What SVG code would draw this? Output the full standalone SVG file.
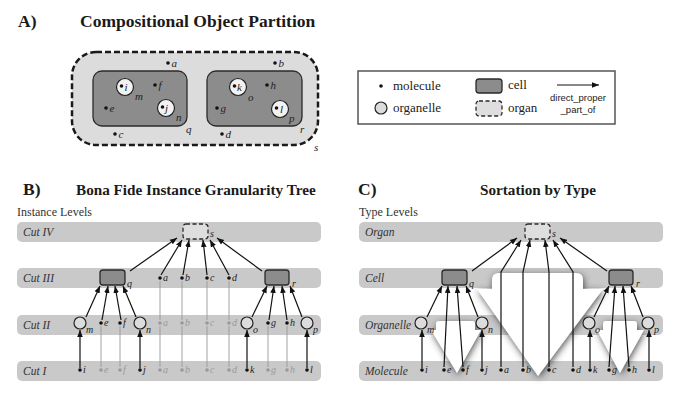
<svg xmlns="http://www.w3.org/2000/svg" width="685" height="402" viewBox="0 0 685 402">
<defs>
<style>
.ttl{font-family:"Liberation Serif","Times New Roman",serif;font-weight:bold;font-size:17.5px;fill:#1a1a1a}
.ttl2{font-family:"Liberation Serif","Times New Roman",serif;font-weight:bold;font-size:15.2px;fill:#1a1a1a}
.lev{font-family:"Liberation Serif","Times New Roman",serif;font-size:12px;fill:#333}
.band{fill:#c9c9c9}
.bl{font-family:"Liberation Serif","Times New Roman",serif;font-style:italic;font-size:11.5px;fill:#333}
.lg{font-family:"Liberation Serif","Times New Roman",serif;font-size:13px;fill:#222}
.sans{font-family:"Liberation Sans",Arial,sans-serif;font-size:9.5px;fill:#222}
.lab{font-family:"Liberation Serif","Times New Roman",serif;font-style:italic;font-size:10px;fill:#222}
.labA{font-family:"Liberation Serif","Times New Roman",serif;font-style:italic;font-size:11px;fill:#222}
.gl{font-family:"Liberation Serif","Times New Roman",serif;font-style:italic;font-size:10px;fill:#999}
.dot{fill:#111}
.gdot{fill:#999}
.cell{fill:#8c8c8c;stroke:#2a2a2a;stroke-width:1.3}
.organ{fill:#dedede;stroke:#2a2a2a;stroke-width:1.3;stroke-dasharray:4 2.5}
.orgl{fill:#dcdcdc;stroke:#222;stroke-width:1.2}
.orglA{fill:#f2f2f2;stroke:#222;stroke-width:1.2}
.arr{stroke:#111;stroke-width:1.2;fill:none;marker-end:url(#ah)}
.gline{stroke:#999;stroke-width:0.9;fill:none}
.white{fill:#ffffff;filter:url(#sh)}
</style>
<marker id="ah" viewBox="0 0 10 10" refX="10" refY="5" markerWidth="7" markerHeight="7" markerUnits="userSpaceOnUse" orient="auto">
<path d="M0,1 L10,5 L0,9 z" fill="#111"/>
</marker>
<filter id="sh" x="-25%" y="-25%" width="150%" height="150%">
<feDropShadow dx="1" dy="2" stdDeviation="3.5" flood-color="#333" flood-opacity="0.85"/>
</filter>
</defs>

<!-- Panel A -->
<g id="panelA">
<text class="ttl" x="18" y="27">A)</text>
<text class="ttl" x="80" y="27">Compositional Object Partition</text>
<g id="A-s">
<rect x="72" y="52" width="246" height="93" rx="24" fill="#dcdcdc" stroke="#1a1a1a" stroke-width="2.5" stroke-dasharray="6 3"/>
<text class="labA" x="314" y="151">s</text>
</g>
<g id="A-q"><rect class="cell" x="93" y="71" width="94" height="55" rx="9"/><text class="labA" x="186" y="133">q</text></g>
<g id="A-r"><rect class="cell" x="207" y="71" width="95" height="55" rx="9"/><text class="labA" x="300" y="133">r</text></g>
<g id="A-m"><circle class="orglA" cx="125" cy="87" r="8.5"/><circle class="dot" cx="121.5" cy="86" r="1.8"/><text class="labA" x="124.5" y="90.5">i</text><text class="labA" x="135" y="100">m</text></g>
<g id="A-n"><circle class="orglA" cx="166" cy="108" r="8.5"/><circle class="dot" cx="162.5" cy="107" r="1.8"/><text class="labA" x="165" y="111.5">j</text><text class="labA" x="176" y="121">n</text></g>
<g id="A-o"><circle class="orglA" cx="238" cy="87" r="8.5"/><circle class="dot" cx="234.5" cy="86" r="1.8"/><text class="labA" x="237" y="90.5">k</text><text class="labA" x="248" y="101">o</text></g>
<g id="A-p"><circle class="orglA" cx="280" cy="109" r="8.5"/><circle class="dot" cx="276.5" cy="108" r="1.8"/><text class="labA" x="280" y="112.5">l</text><text class="labA" x="289" y="122">p</text></g>
<g id="A-a"><circle class="dot" cx="168" cy="63" r="1.8"/><text class="labA" x="171.5" y="67">a</text></g>
<g id="A-b"><circle class="dot" cx="275" cy="63" r="1.8"/><text class="labA" x="278.5" y="67">b</text></g>
<g id="A-c"><circle class="dot" cx="115" cy="134" r="1.8"/><text class="labA" x="118.5" y="138">c</text></g>
<g id="A-d"><circle class="dot" cx="222" cy="134" r="1.8"/><text class="labA" x="225.5" y="138">d</text></g>
<g id="A-e"><circle class="dot" cx="106" cy="108" r="1.8"/><text class="labA" x="109.5" y="112">e</text></g>
<g id="A-f"><circle class="dot" cx="155" cy="85" r="1.8"/><text class="labA" x="158.5" y="89">f</text></g>
<g id="A-g"><circle class="dot" cx="217" cy="108" r="1.8"/><text class="labA" x="220.5" y="112">g</text></g>
<g id="A-h"><circle class="dot" cx="267" cy="85" r="1.8"/><text class="labA" x="270.5" y="89">h</text></g>
</g>

<!-- Legend -->
<g id="legend">
<rect x="358" y="71" width="257" height="53" fill="#fff" stroke="#555" stroke-width="1.5"/>
<circle class="dot" cx="381" cy="86" r="1.8"/>
<text class="lg" x="393" y="90">molecule</text>
<circle class="orgl" cx="381" cy="108" r="6"/>
<text class="lg" x="393" y="112">organelle</text>
<rect class="cell" x="476" y="79" width="26" height="14" rx="3"/>
<text class="lg" x="508" y="89">cell</text>
<rect class="organ" x="476" y="101" width="26" height="15" rx="3"/>
<text class="lg" x="508" y="112">organ</text>
<line class="arr" x1="557" y1="85" x2="599" y2="85"/>
<text class="sans" x="578" y="101" text-anchor="middle">direct_proper</text>
<text class="sans" x="578" y="113" text-anchor="middle">_part_of</text>
</g>

<!-- Panel B -->
<g id="panelB">
<text class="ttl" x="23" y="195">B)</text>
<text class="ttl2" x="76" y="195">Bona Fide Instance Granularity Tree</text>
<text class="lev" x="17" y="216">Instance Levels</text>
<rect class="band" x="17" y="222" width="304" height="20" rx="5"/>
<rect class="band" x="17" y="268" width="304" height="20" rx="5"/>
<rect class="band" x="17" y="315" width="304" height="20" rx="5"/>
<rect class="band" x="17" y="361" width="304" height="20" rx="5"/>
<text class="bl" x="23" y="236">Cut IV</text>
<text class="bl" x="23" y="282">Cut III</text>
<text class="bl" x="23" y="329">Cut II</text>
<text class="bl" x="23" y="375">Cut I</text>
</g>

<g id="B-connectors">
<line class="gline" x1="160" y1="281" x2="160" y2="320"/>
<line class="gline" x1="182" y1="281" x2="182" y2="320"/>
<line class="gline" x1="207" y1="281" x2="207" y2="320"/>
<line class="gline" x1="229" y1="281" x2="229" y2="320"/>
<line class="gline" x1="160" y1="326" x2="160" y2="367"/>
<line class="gline" x1="182" y1="326" x2="182" y2="367"/>
<line class="gline" x1="207" y1="326" x2="207" y2="367"/>
<line class="gline" x1="229" y1="326" x2="229" y2="367"/>
<line class="gline" x1="101" y1="326" x2="101" y2="367"/>
<line class="gline" x1="120" y1="326" x2="120" y2="367"/>
<line class="gline" x1="268" y1="326" x2="268" y2="367"/>
<line class="gline" x1="287" y1="326" x2="287" y2="367"/>
<line class="arr" x1="130" y1="271" x2="177" y2="238"/>
<line class="arr" x1="161" y1="275" x2="182" y2="240"/>
<line class="arr" x1="183" y1="275" x2="189" y2="240"/>
<line class="arr" x1="207" y1="275" x2="203" y2="240"/>
<line class="arr" x1="229" y1="275" x2="210" y2="240"/>
<line class="arr" x1="262" y1="271" x2="217" y2="238"/>
<line class="arr" x1="86" y1="317" x2="100" y2="286"/>
<line class="arr" x1="102" y1="320" x2="108" y2="286"/>
<line class="arr" x1="121" y1="320" x2="115" y2="286"/>
<line class="arr" x1="136" y1="317" x2="123" y2="286"/>
<line class="arr" x1="252" y1="317" x2="267" y2="286"/>
<line class="arr" x1="269" y1="320" x2="274" y2="286"/>
<line class="arr" x1="287" y1="320" x2="282" y2="286"/>
<line class="arr" x1="302" y1="317" x2="290" y2="286"/>
<line class="arr" x1="80" y1="368" x2="80" y2="330"/>
<line class="arr" x1="140" y1="368" x2="140" y2="330"/>
<line class="arr" x1="247" y1="368" x2="247" y2="330"/>
<line class="arr" x1="307" y1="368" x2="307" y2="330"/>
</g>

<g id="B-s"><rect class="organ" x="183" y="224" width="25" height="15" rx="3"/><text class="lab" x="210" y="237">s</text></g>
<g id="B-q"><rect class="cell" x="100" y="270" width="25" height="15" rx="3"/><text class="lab" x="127" y="287">q</text></g>
<g id="B-r"><rect class="cell" x="265" y="270" width="24" height="15" rx="3"/><text class="lab" x="292" y="287">r</text></g>
<g id="B-a3"><circle class="dot" cx="160" cy="278" r="1.8"/><text class="lab" x="163" y="281">a</text></g>
<g id="B-b3"><circle class="dot" cx="182" cy="278" r="1.8"/><text class="lab" x="185" y="281">b</text></g>
<g id="B-c3"><circle class="dot" cx="207" cy="278" r="1.8"/><text class="lab" x="210" y="281">c</text></g>
<g id="B-d3"><circle class="dot" cx="229" cy="278" r="1.8"/><text class="lab" x="232" y="281">d</text></g>
<g id="B-m"><circle class="orgl" cx="80" cy="323" r="6"/><text class="lab" x="86" y="333">m</text></g>
<g id="B-e2"><circle class="dot" cx="101" cy="323" r="1.8"/><text class="lab" x="104" y="326">e</text></g>
<g id="B-f2"><circle class="dot" cx="120" cy="323" r="1.8"/><text class="lab" x="123" y="326">f</text></g>
<g id="B-n"><circle class="orgl" cx="140" cy="323" r="6"/><text class="lab" x="146" y="333">n</text></g>
<g id="B-a2"><circle class="gdot" cx="160" cy="323" r="1.8"/><text class="gl" x="163" y="326">a</text></g>
<g id="B-b2"><circle class="gdot" cx="182" cy="323" r="1.8"/><text class="gl" x="185" y="326">b</text></g>
<g id="B-c2"><circle class="gdot" cx="207" cy="323" r="1.8"/><text class="gl" x="210" y="326">c</text></g>
<g id="B-d2"><circle class="gdot" cx="229" cy="323" r="1.8"/><text class="gl" x="232" y="326">d</text></g>
<g id="B-o"><circle class="orgl" cx="247" cy="323" r="6"/><text class="lab" x="253" y="333">o</text></g>
<g id="B-g2"><circle class="dot" cx="268" cy="323" r="1.8"/><text class="lab" x="271" y="326">g</text></g>
<g id="B-h2"><circle class="dot" cx="287" cy="323" r="1.8"/><text class="lab" x="290" y="326">h</text></g>
<g id="B-p"><circle class="orgl" cx="307" cy="323" r="6"/><text class="lab" x="313" y="333">p</text></g>
<g id="B-i1"><circle class="dot" cx="80" cy="370" r="1.8"/><text class="lab" x="83" y="373">i</text></g>
<g id="B-e1"><circle class="gdot" cx="101" cy="370" r="1.8"/><text class="gl" x="104" y="373">e</text></g>
<g id="B-f1"><circle class="gdot" cx="120" cy="370" r="1.8"/><text class="gl" x="123" y="373">f</text></g>
<g id="B-j1"><circle class="dot" cx="140" cy="370" r="1.8"/><text class="lab" x="143" y="373">j</text></g>
<g id="B-a1"><circle class="gdot" cx="160" cy="370" r="1.8"/><text class="gl" x="163" y="373">a</text></g>
<g id="B-b1"><circle class="gdot" cx="182" cy="370" r="1.8"/><text class="gl" x="185" y="373">b</text></g>
<g id="B-c1"><circle class="gdot" cx="207" cy="370" r="1.8"/><text class="gl" x="210" y="373">c</text></g>
<g id="B-d1"><circle class="gdot" cx="229" cy="370" r="1.8"/><text class="gl" x="232" y="373">d</text></g>
<g id="B-k1"><circle class="dot" cx="247" cy="370" r="1.8"/><text class="lab" x="250" y="373">k</text></g>
<g id="B-g1"><circle class="gdot" cx="268" cy="370" r="1.8"/><text class="gl" x="271" y="373">g</text></g>
<g id="B-h1"><circle class="gdot" cx="287" cy="370" r="1.8"/><text class="gl" x="290" y="373">h</text></g>
<g id="B-l1"><circle class="dot" cx="307" cy="370" r="1.8"/><text class="lab" x="310" y="373">l</text></g>

<!-- Panel C -->
<g id="panelC">
<text class="ttl" x="358" y="195">C)</text>
<text class="ttl2" x="480" y="195">Sortation by Type</text>
<text class="lev" x="359" y="216">Type Levels</text>
<rect class="band" x="359" y="222" width="304" height="20" rx="5"/>
<rect class="band" x="359" y="268" width="304" height="20" rx="5"/>
<rect class="band" x="359" y="315" width="304" height="20" rx="5"/>
<rect class="band" x="359" y="361" width="304" height="20" rx="5"/>
<text class="bl" x="365" y="236">Organ</text>
<text class="bl" x="365" y="282">Cell</text>
<text class="bl" x="365" y="329">Organelle</text>
<text class="bl" x="365" y="375">Molecule</text>
<path class="white" d="M492,289 L492,280 Q492,273 499,273 L576,273 Q583,273 583,280 L583,289 L603,289 L538,376 L477,289 Z"/>
<path class="white" d="M436,330 L436,324 Q436,321 439,321 L472,321 Q475,321 475,324 L475,330 L481,330 L457,373 L431,330 Z"/>
<path class="white" d="M603,330 L603,324 Q603,321 606,321 L634,321 Q637,321 637,324 L637,330 L644,330 L620,373 L597,330 Z"/>
</g>

<g id="C-connectors">
<line class="arr" x1="472" y1="271" x2="517" y2="238"/>
<polyline class="arr" points="501,367 501,272 521,240"/>
<polyline class="arr" points="523,367 523,272 530,240"/>
<polyline class="arr" points="549,367 549,272 545,240"/>
<polyline class="arr" points="573,367 573,272 553,240"/>
<line class="arr" x1="607" y1="271" x2="560" y2="238"/>
<line class="arr" x1="427" y1="317" x2="442" y2="286"/>
<line class="arr" x1="444" y1="367" x2="448" y2="286"/>
<line class="arr" x1="463" y1="367" x2="457" y2="286"/>
<line class="arr" x1="478" y1="317" x2="466" y2="286"/>
<line class="arr" x1="594" y1="317" x2="609" y2="286"/>
<line class="arr" x1="609" y1="367" x2="615" y2="286"/>
<line class="arr" x1="629" y1="367" x2="623" y2="286"/>
<line class="arr" x1="643" y1="317" x2="631" y2="286"/>
<line class="arr" x1="422" y1="368" x2="422" y2="330"/>
<line class="arr" x1="482" y1="368" x2="482" y2="330"/>
<line class="arr" x1="590" y1="368" x2="590" y2="330"/>
<line class="arr" x1="649" y1="368" x2="649" y2="330"/>
</g>

<g id="C-s"><rect class="organ" x="525" y="224" width="25" height="15" rx="3"/><text class="lab" x="552" y="237">s</text></g>
<g id="C-q"><rect class="cell" x="442" y="270" width="25" height="15" rx="3"/><text class="lab" x="469" y="287">q</text></g>
<g id="C-r"><rect class="cell" x="609" y="270" width="24" height="15" rx="3"/><text class="lab" x="636" y="287">r</text></g>
<g id="C-m"><circle class="orgl" cx="421" cy="323" r="6"/><text class="lab" x="427" y="333">m</text></g>
<g id="C-n"><circle class="orgl" cx="482" cy="323" r="6"/><text class="lab" x="488" y="333">n</text></g>
<g id="C-o"><circle class="orgl" cx="589" cy="323" r="6"/><text class="lab" x="595" y="333">o</text></g>
<g id="C-p"><circle class="orgl" cx="648" cy="323" r="6"/><text class="lab" x="654" y="333">p</text></g>
<g id="C-i"><circle class="dot" cx="422" cy="370" r="1.8"/><text class="lab" x="425" y="373">i</text></g>
<g id="C-e"><circle class="dot" cx="444" cy="370" r="1.8"/><text class="lab" x="447" y="373">e</text></g>
<g id="C-f"><circle class="dot" cx="463" cy="370" r="1.8"/><text class="lab" x="466" y="373">f</text></g>
<g id="C-j"><circle class="dot" cx="482" cy="370" r="1.8"/><text class="lab" x="485" y="373">j</text></g>
<g id="C-a"><circle class="dot" cx="501" cy="370" r="1.8"/><text class="lab" x="504" y="373">a</text></g>
<g id="C-b"><circle class="dot" cx="523" cy="370" r="1.8"/><text class="lab" x="526" y="373">b</text></g>
<g id="C-c"><circle class="dot" cx="549" cy="370" r="1.8"/><text class="lab" x="552" y="373">c</text></g>
<g id="C-d"><circle class="dot" cx="573" cy="370" r="1.8"/><text class="lab" x="576" y="373">d</text></g>
<g id="C-k"><circle class="dot" cx="590" cy="370" r="1.8"/><text class="lab" x="593" y="373">k</text></g>
<g id="C-g"><circle class="dot" cx="609" cy="370" r="1.8"/><text class="lab" x="612" y="373">g</text></g>
<g id="C-h"><circle class="dot" cx="629" cy="370" r="1.8"/><text class="lab" x="632" y="373">h</text></g>
<g id="C-l"><circle class="dot" cx="649" cy="370" r="1.8"/><text class="lab" x="652" y="373">l</text></g>
</svg>
